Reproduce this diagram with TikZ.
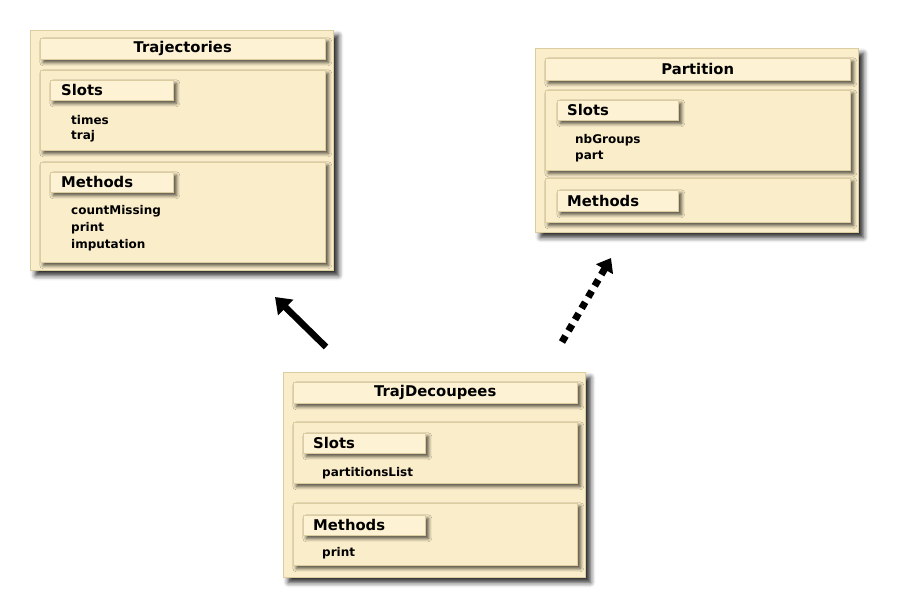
\documentclass[tikz,border=0pt]{standalone}
\usepackage{fontspec}
\setmainfont{DejaVu Sans}
\usetikzlibrary{shadows.blur,arrows.meta}
\definecolor{boxfill}{HTML}{FAEDC9}
\definecolor{barfill}{HTML}{FDF2D4}
\definecolor{edgecol}{HTML}{DCCDA0}
\tikzset{
  sh/.style={blur shadow={shadow xshift=3pt,shadow yshift=-3pt,shadow blur radius=3.5pt,shadow opacity=70}},
  bigsh/.style={blur shadow={shadow xshift=5pt,shadow yshift=-5pt,shadow blur radius=5pt,shadow opacity=85}},
  outerbox/.style={bigsh,draw=edgecol,line width=0.8pt,fill=boxfill,anchor=north west,inner sep=0pt},
  secbox/.style={sh,draw=edgecol,line width=0.5pt,fill=boxfill,anchor=north west,inner sep=0pt},
  titlebar/.style={sh,draw=edgecol,line width=0.5pt,fill=barfill,anchor=north west,inner sep=0pt},
  titletext/.style={font=\bfseries\fontsize{14.8}{16}\selectfont,inner sep=0pt},
  labeltext/.style={font=\bfseries\fontsize{14.8}{16}\selectfont,anchor=west,inner sep=0pt},
  itemtext/.style={font=\bfseries\fontsize{12}{13}\selectfont,anchor=west,inner sep=0pt},
  inharrow/.style={line width=6.5pt,-{Triangle[length=15pt,width=21pt]}},
  dasharrow/.style={line width=7pt,dash pattern=on 7pt off 6pt,-{Triangle[length=13pt,width=19pt]}}
}
\begin{document}
\begin{tikzpicture}[x=1pt,y=-1pt]
\useasboundingbox (0,0) rectangle (911,598);
% ---------- Trajectories ----------
\node[outerbox,minimum width=303pt,minimum height=240pt] (traj) at (30,30) {};
\node[secbox,minimum width=285pt,minimum height=80pt] (trajslots) at (40,70) {};
\node[secbox,minimum width=285pt,minimum height=100pt] (trajmeth) at (40,162) {};
\node[titlebar,minimum width=285pt,minimum height=21pt] (trajtitle) at (40,38) {};
\node[titletext] (trajtitletext) at (trajtitle.center) {Trajectories};
\node[titlebar,minimum width=123pt,minimum height=20pt] (trajslotslab) at (50,80) {};
\node[labeltext] (trajslotstext) at (61,90) {Slots};
\node[itemtext] (trajtimes) at (71,120) {times};
\node[itemtext] (trajtraj) at (71,136) {traj};
\node[titlebar,minimum width=123pt,minimum height=20pt] (trajmethlab) at (50,172) {};
\node[labeltext] (trajmethtext) at (61,182) {Methods};
\node[itemtext] (trajcount) at (71,211) {countMissing};
\node[itemtext] (trajprint) at (71,228) {print};
\node[itemtext] (trajimput) at (71,245) {imputation};
% ---------- Partition ----------
\node[outerbox,minimum width=323pt,minimum height=184pt] (part) at (535,48) {};
\node[secbox,minimum width=305pt,minimum height=80pt] (partslots) at (545,90) {};
\node[secbox,minimum width=305pt,minimum height=44pt] (partmeth) at (545,178) {};
\node[titlebar,minimum width=305pt,minimum height=22pt] (parttitle) at (545,58) {};
\node[titletext] (parttitletext) at (parttitle.center) {Partition};
\node[titlebar,minimum width=121pt,minimum height=20pt] (partslotslab) at (557,100) {};
\node[labeltext] (partslotstext) at (567,110) {Slots};
\node[itemtext] (partnb) at (575,140) {nbGroups};
\node[itemtext] (partpart) at (575,157) {part};
\node[titlebar,minimum width=121pt,minimum height=21pt] (partmethlab) at (557,190) {};
\node[labeltext] (partmethtext) at (567,200.5) {Methods};
% ---------- TrajDecoupees ----------
\node[outerbox,minimum width=302pt,minimum height=205pt] (td) at (283,372) {};
\node[secbox,minimum width=284pt,minimum height=61pt] (tdslots) at (293,422) {};
\node[secbox,minimum width=284pt,minimum height=62pt] (tdmeth) at (293,503) {};
\node[titlebar,minimum width=284pt,minimum height=21pt] (tdtitle) at (293,382) {};
\node[titletext] (tdtitletext) at (tdtitle.center) {TrajDecoupees};
\node[titlebar,minimum width=122pt,minimum height=20pt] (tdslotslab) at (303,433) {};
\node[labeltext] (tdslotstext) at (313,443) {Slots};
\node[itemtext] (tdpl) at (322,473) {partitionsList};
\node[titlebar,minimum width=122pt,minimum height=20pt] (tdmethlab) at (303,515) {};
\node[labeltext] (tdmethtext) at (313,525) {Methods};
\node[itemtext] (tdprint) at (322,553) {print};
% ---------- arrows ----------
\coordinate (a1s) at (326,347);
\coordinate (a1e) at (275,297);
\coordinate (a2s) at (562,342);
\coordinate (a2e) at (611,258);
\draw[inharrow] (a1s) -- (a1e);
\draw[dasharrow] (a2s) -- (a2e);
\end{tikzpicture}
\end{document}
